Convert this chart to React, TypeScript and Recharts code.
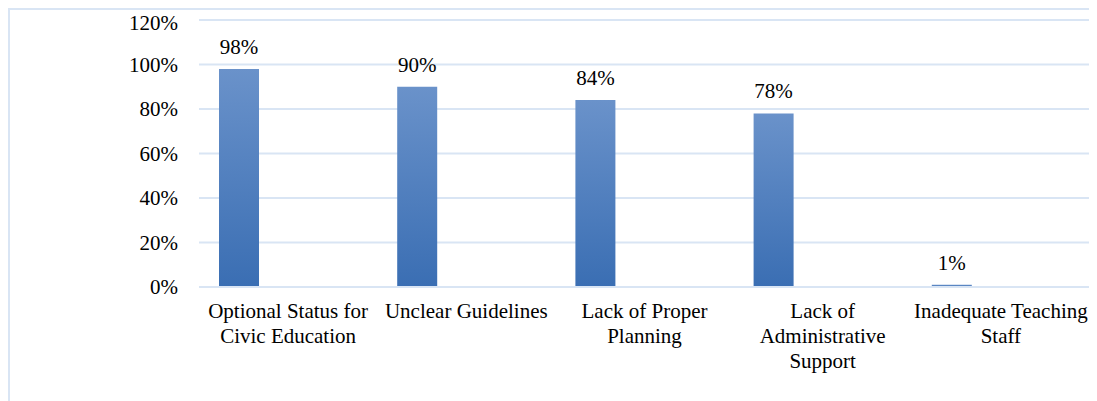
import { BarChart, Bar, XAxis, YAxis, CartesianGrid, LabelList } from "recharts";

const categories = [
  "Optional Status for\nCivic Education",
  "Unclear Guidelines",
  "Lack of Proper\nPlanning",
  "Lack of\nAdministrative\nSupport",
  "Inadequate Teaching\nStaff",
];
const values = [98, 90, 84, 78, 1];
// second (empty) series in the source chart, it only takes up room next to the bars
const emptySeries = [null, null, null, null, null];
const yTicks = [0, 20, 40, 60, 80, 100, 120];

const data = categories.map((name, i) => ({
  name,
  value: values[i],
  empty: emptySeries[i],
}));

const FONT = '"Liberation Serif", "Times New Roman", serif';
const FONT_SIZE = 21;
const GRID = "#d9e5f4";

function CategoryTick({ x, y, payload }: any) {
  const lines = String(payload.value).split("\n");
  return (
    <text x={x} y={y} textAnchor="middle" fill="#000" fontFamily={FONT} fontSize={FONT_SIZE}>
      {lines.map((line, i) => (
        <tspan key={i} x={x} dy={i === 0 ? 23 : 25}>
          {line}
        </tspan>
      ))}
    </text>
  );
}

export default function App() {
  return (
    <div
      style={{
        width: 1089,
        height: 393,
        borderTop: `2px solid ${GRID}`,
        borderLeft: `2px solid ${GRID}`,
        boxSizing: "border-box",
      }}
    >
      <BarChart
        width={1087}
        height={391}
        data={data}
        margin={{ top: 10, right: 7, left: 0, bottom: 14 }}
        barGap={0}
      >
        <defs>
          <linearGradient id="barFill" x1="0" y1="0" x2="0" y2="1">
            <stop offset="0%" stopColor="#6a92ca" />
            <stop offset="100%" stopColor="#3a6eb3" />
          </linearGradient>
        </defs>
        <CartesianGrid vertical={false} stroke={GRID} strokeWidth={2} />
        <XAxis
          dataKey="name"
          height={100}
          interval={0}
          axisLine={{ stroke: GRID, strokeWidth: 2 }}
          tickLine={false}
          tick={<CategoryTick />}
        />
        <YAxis
          width={189}
          domain={[0, 120]}
          ticks={yTicks}
          tickFormatter={(v) => `${v}%`}
          axisLine={false}
          tickLine={false}
          tickSize={0}
          tickMargin={21}
          tick={{ fill: "#000", fontFamily: FONT, fontSize: FONT_SIZE }}
        />
        <Bar dataKey="value" barSize={40} fill="url(#barFill)" isAnimationActive={false}>
          <LabelList
            dataKey="value"
            position="top"
            offset={15}
            formatter={(v: any) => `${v}%`}
            fill="#000"
            fontFamily={FONT}
            fontSize={FONT_SIZE}
          />
        </Bar>
        <Bar dataKey="empty" barSize={98} fill="none" isAnimationActive={false} />
      </BarChart>
    </div>
  );
}
